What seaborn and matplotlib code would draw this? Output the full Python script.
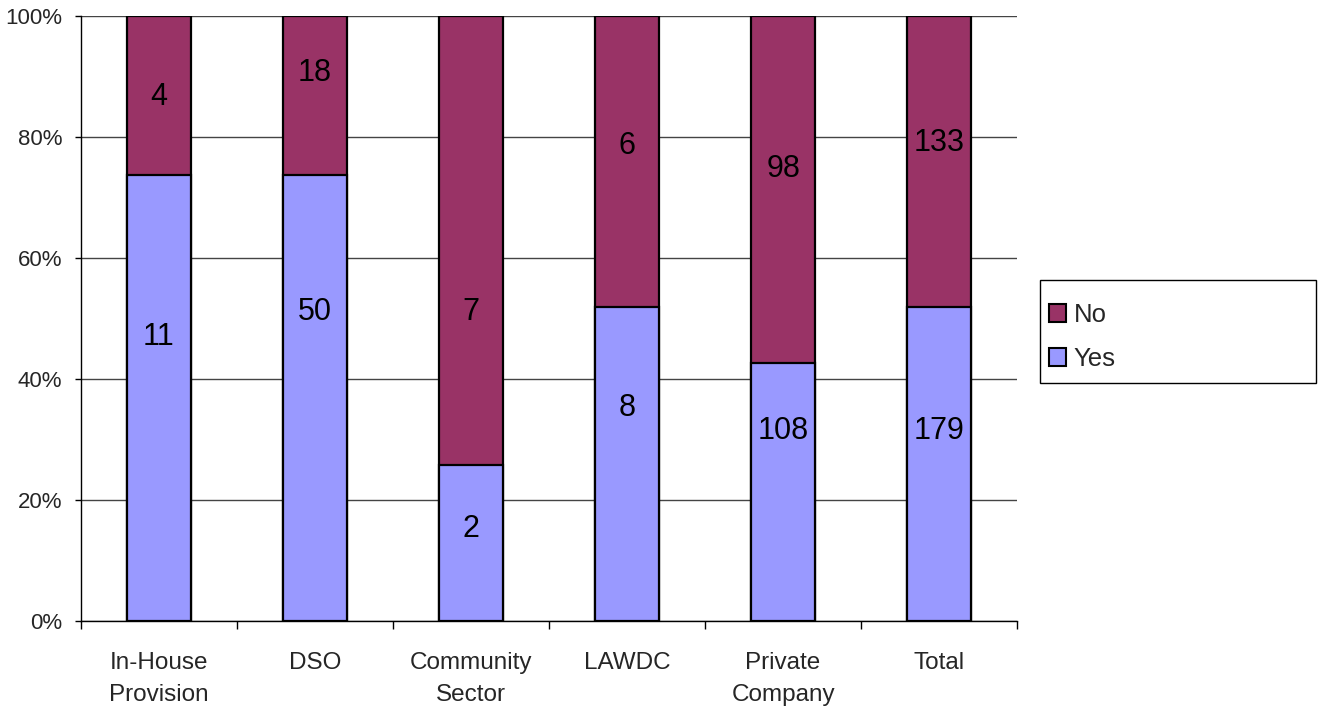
import pandas as pd
import seaborn as sns
import matplotlib.pyplot as plt
from matplotlib.patches import Patch, Rectangle

# categories and values
categories = ["In-House\nProvision", "DSO", "Community\nSector", "LAWDC",
              "Private\nCompany", "Total"]
yes_share = [73.8, 73.8, 25.8, 51.9, 42.7, 51.9]   # % height of the Yes segment
yes_counts = [11, 50, 2, 8, 108, 179]
no_counts = [4, 18, 7, 6, 98, 133]

# where the count labels sit (in % units), as placed in the original chart
yes_label_pos = [46.9, 51.1, 15.2, 35.2, 31.4, 31.4]
no_label_pos = [86.6, 90.6, 51.1, 78.5, 74.7, 79.0]

YES_COLOR = "#9999FF"
NO_COLOR = "#993366"


def main():
    sns.set_style("white")
    plt.rcParams["font.family"] = ["Liberation Sans", "DejaVu Sans"]

    df = pd.DataFrame({"category": categories, "yes": yes_share})
    df["total"] = 100.0

    fig = plt.figure(figsize=(13.21, 7.12), dpi=100)
    ax = fig.add_axes([0.0613, 0.1278, 0.7087, 0.8497])

    ax.yaxis.grid(True, color="#444444", linewidth=1)
    ax.set_axisbelow(True)

    sns.barplot(data=df, x="category", y="total", color=NO_COLOR, width=0.41,
                edgecolor="black", linewidth=1.6, saturation=1, ax=ax)
    sns.barplot(data=df, x="category", y="yes", color=YES_COLOR, width=0.41,
                edgecolor="black", linewidth=1.6, saturation=1, ax=ax)

    for i in range(len(categories)):
        ax.text(i, yes_label_pos[i], str(yes_counts[i]), ha="center", va="center",
                fontsize=22, color="black")
        ax.text(i, no_label_pos[i], str(no_counts[i]), ha="center", va="center",
                fontsize=22, color="black")

    ax.set_xlim(-0.5, len(categories) - 0.5)
    ax.set_ylim(0, 100)
    ax.set_yticks(range(0, 101, 20))
    ax.set_yticklabels([f"{v}%" for v in range(0, 101, 20)], fontsize=16)
    ax.tick_params(axis="y", length=4.5, width=1, color="black", pad=9, direction="out", left=True)
    ax.tick_params(axis="x", which="major", length=0, pad=22, labelsize=17.5)
    for lbl in ax.get_xticklabels():
        lbl.set_linespacing(1.6)
    ax.set_xticks([i - 0.5 for i in range(len(categories) + 1)], minor=True)
    ax.tick_params(axis="x", which="minor", length=6, width=1, color="black", direction="out", bottom=True)
    ax.set(xlabel="", ylabel="")

    for side in ["top", "right"]:
        ax.spines[side].set_visible(False)
    for side in ["left", "bottom"]:
        ax.spines[side].set_color("black")
        ax.spines[side].set_linewidth(1)

    # legend box drawn separately so it can be sized like the original
    fig.patches.append(Rectangle((1040 / 1321, 1 - 383 / 712), 276 / 1321, 103 / 712,
                                 transform=fig.transFigure, facecolor="white",
                                 edgecolor="black", linewidth=1))
    handles = [Patch(facecolor=NO_COLOR, edgecolor="black", linewidth=1.5, label="No"),
               Patch(facecolor=YES_COLOR, edgecolor="black", linewidth=1.5, label="Yes")]
    fig.legend(handles=handles, loc="upper left",
               bbox_to_anchor=(1049 / 1321, 1 - 303 / 712),
               fontsize=18.5, frameon=False, handlelength=0.65,
               handleheight=0.65, handletextpad=0.3, labelspacing=0.78,
               borderpad=0, borderaxespad=0)

    fig.savefig("out.png", dpi=100)


if __name__ == '__main__':
    main()
